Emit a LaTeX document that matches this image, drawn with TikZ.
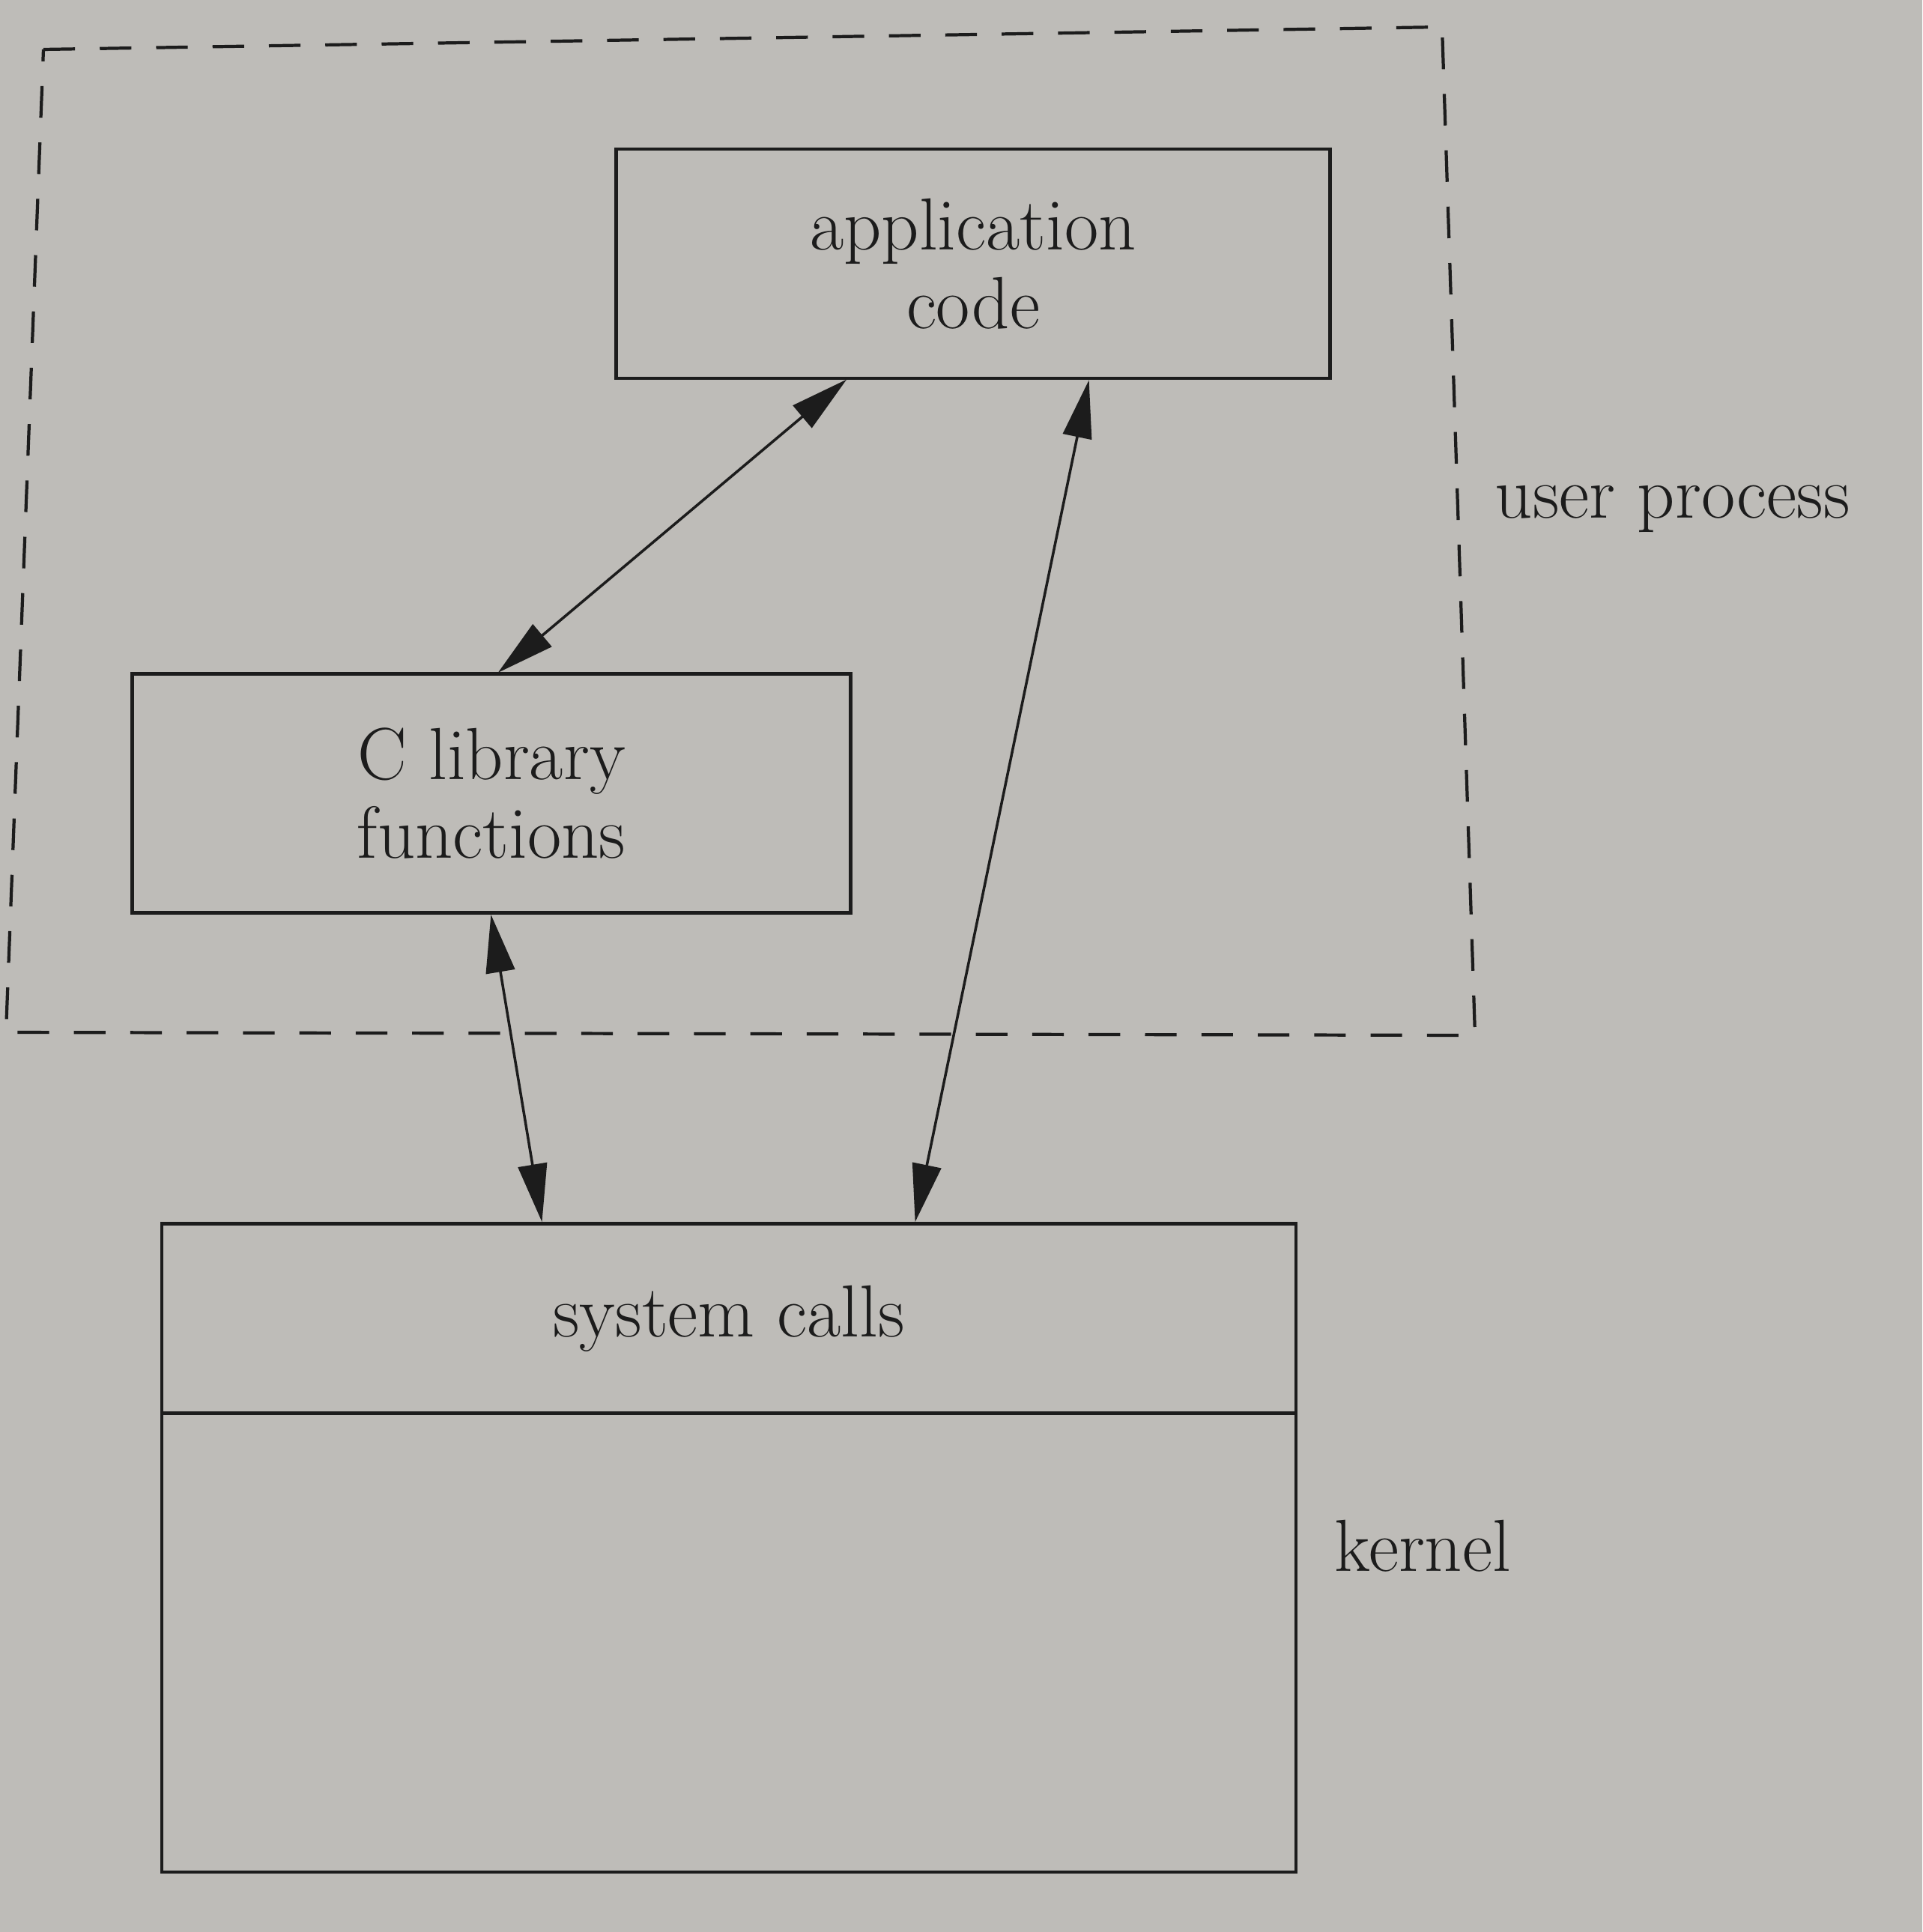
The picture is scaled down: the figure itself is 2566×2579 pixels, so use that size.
\documentclass[tikz,border=0pt]{standalone}
\usetikzlibrary{arrows.meta,calc}
\definecolor{paper}{RGB}{190,188,184}
\definecolor{ink}{RGB}{28,28,28}
\begin{document}
\begin{tikzpicture}[x=0.01cm,y=-0.01cm,
  box/.style={draw=ink,line width=1.3pt,rectangle,inner sep=0pt,outer sep=0pt,align=center,
    font=\fontsize{28}{30}\selectfont,text=ink},
  lbl/.style={anchor=west,inner sep=0pt,font=\fontsize{28}{30}\selectfont,text=ink},
  conn/.style={draw=ink,line width=1pt,{Triangle[length=22pt,width=11pt]}-{Triangle[length=22pt,width=11pt]}},
  dashbox/.style={draw=ink,line width=1.2pt,dash pattern=on 12pt off 9.4pt}]
\useasboundingbox (0,0) rectangle (2566,2579);
\fill[paper] (0,0) rectangle (2566,2579);
% dashed user-process region
\draw[dashbox] (58,66) -- (1925,36) -- (1969,1382) -- (8,1378) -- cycle;
% boxes
\node[box,minimum width=9.52cm,minimum height=3.06cm] (app) at (1299,352) {application\\code};
\node[box,minimum width=9.58cm,minimum height=3.19cm] (clib) at (656,1059) {C library\\functions};
\node[box,minimum width=15.13cm,minimum height=2.53cm] (sys) at (973,1760) {system calls};
\node[box,minimum width=15.13cm,minimum height=6.12cm,anchor=north] (kern) at (sys.south) {};
% labels
\node[lbl] (up) at (1995,679) {user process};
\node[lbl] (kl) at (1781,2064) {kernel};
% connectors
\draw[conn,shorten <=0.65pt,shorten >=0.65pt] ([xshift=-1.67cm]app.south) -- ([xshift=0.07cm]clib.north);
\draw[conn,shorten <=0.65pt,shorten >=0.65pt] ([xshift=-0.01cm]clib.south) -- ([xshift=-2.49cm]sys.north);
\draw[conn,shorten <=0.65pt,shorten >=0.65pt] ([xshift=2.48cm]sys.north) -- ([xshift=1.55cm]app.south);
\end{tikzpicture}
\end{document}
